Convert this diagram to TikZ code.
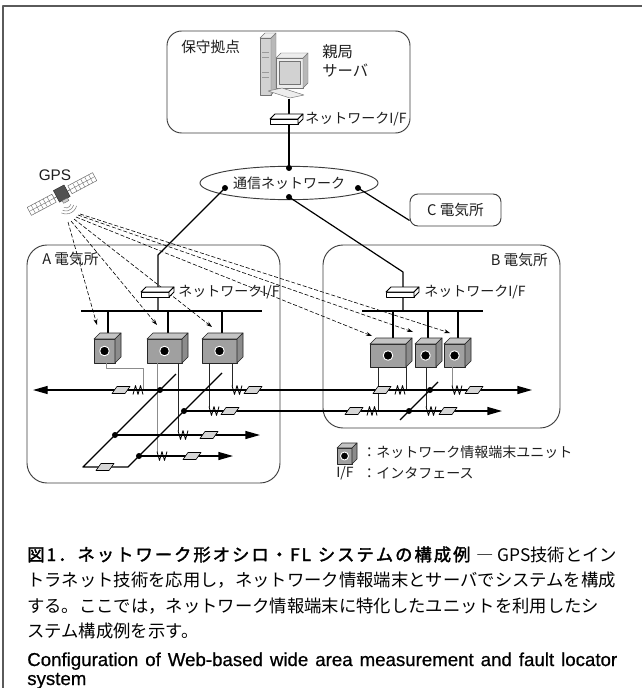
\documentclass[tikz,border=0pt]{standalone}
\usepackage{fontspec}
\setmainfont{Liberation Sans}
\newfontfamily\jp{Noto Sans CJK JP}
\newfontfamily\jpbf[FakeBold=2]{Noto Sans CJK JP}
\newfontfamily\enmed[FakeBold=0.7]{Liberation Sans}
\usetikzlibrary{arrows.meta,calc,shapes.geometric}

\definecolor{framegray}{HTML}{5A5A5A}
\definecolor{boxgray}{HTML}{3C3C3C}
\definecolor{ufront}{HTML}{A0A0A0}
\definecolor{utop}{HTML}{C4C4C4}
\definecolor{uside}{HTML}{8C8C8C}
\definecolor{brkfill}{HTML}{D6D6D6}
\definecolor{pcA}{HTML}{EDEDED}
\definecolor{pcB}{HTML}{D2D2D2}
\definecolor{pcC}{HTML}{B8B8B8}
\definecolor{pcD}{HTML}{9A9A9A}
\definecolor{txt}{HTML}{1E1E1E}

% spread a run of characters evenly over the width of the surrounding box
\ExplSyntaxOn
\NewDocumentCommand\spreadchars{m}{\tl_map_inline:nn{#1}{##1\hfil}}
\ExplSyntaxOff

% 3-D terminal unit: name, x, y (top-left of front face), width, height, depth
\newcommand\termunit[6]{%
  \filldraw[unitface, fill=ufront] (#2,#3) rectangle ++(#4,#5);
  \filldraw[unitface, fill=utop] (#2,#3) -- ++(#6,-#6) -- ++(#4,0) -- ++(-#6,#6) -- cycle;
  \filldraw[unitface, fill=uside] (#2+#4,#3) -- ++(#6,-#6) -- ++(0,#5) -- ++(-#6,#6) -- cycle;
  \node[unitdot, minimum size=#6*1.2pt] (#1) at (#2+#4/2,#3+#5/2) {};
}
% circuit breaker: left x, line y
\newcommand\cbreaker[2]{\filldraw[brkstyle] (#1,#2+3.5) -- ++(13,0) -- ++(5,-7) -- ++(-13,0) -- cycle;}
% current transformer zigzags: centre x, line y
\newcommand\ctw[2]{\draw[ctstyle] (#1-5,#2-4.5) -- (#1-2.5,#2+4.5) -- (#1,#2-4.5) -- (#1+2.5,#2+4.5) -- (#1+5,#2-4.5);}
\newcommand\ctm[2]{\draw[ctstyle] (#1-5,#2+4.5) -- (#1-2.5,#2-4.5) -- (#1,#2+4.5) -- (#1+2.5,#2-4.5) -- (#1+5,#2+4.5);}
% network interface box: name, x, y
\newcommand\netif[3]{%
  \coordinate (#1) at (#2,#3);
  \filldraw[ifstyle] (#2-17,#3) rectangle (#2+11,#3+5);
  \filldraw[ifstyle] (#2-17,#3) -- (#2-12,#3-5) -- (#2+16,#3-5) -- (#2+11,#3) -- cycle;
  \filldraw[ifstyle] (#2+11,#3) -- (#2+16,#3-5) -- (#2+16,#3) -- (#2+11,#3+5) -- cycle;
}

\begin{document}
\begin{tikzpicture}[x=0.75pt,y=-0.75pt,line join=round,
  unitface/.style={draw=black!85, line width=0.5pt},
  unitdot/.style={circle, fill=black, draw=white, line width=0.7pt, inner sep=0pt},
  brkstyle/.style={draw=black, fill=brkfill, line width=0.45pt},
  ctstyle/.style={draw=black, line width=0.6pt},
  ifstyle/.style={draw=black, fill=white, line width=0.55pt},
  sitebox/.style={draw=boxgray, line width=0.7pt, rounded corners=15pt, inner sep=0pt},
  netline/.style={draw=black, line width=0.9pt},
  gpsline/.style={draw=black, line width=0.45pt, dash pattern=on 3pt off 1.5pt, -{Stealth[length=4.5pt,width=3pt]}},
  pline/.style={draw=black, line width=1pt},
  ptip/.tip={Triangle[length=11pt,width=6pt]},
  junction/.style={circle, fill=black, inner sep=0pt, minimum size=4.5pt},
  unitwire/.style={draw=black!85, line width=0.55pt},
  unitwiregray/.style={draw=black!45, line width=0.7pt},
  lab/.style={font=\jp\fontsize{10.5pt}{12pt}\selectfont, text=txt, inner sep=0pt},
  biglab/.style={font=\jp\fontsize{11pt}{14pt}\selectfont, text=txt, inner sep=0pt},
  pcface/.style={draw=black!55, line width=0.35pt},
  panel/.style={draw=black!60, fill=white, line width=0.35pt},
  capline/.style={anchor=base west, inner sep=0pt, text=black},
]
\fill[white] (0,0) rectangle (642,688);
\useasboundingbox (0,0) rectangle (642,688);

% frame
\draw[framegray, line width=1.2pt] (3,688) -- (3,6) -- (642,6);

% sites
\node[sitebox, rounded corners=11pt, minimum width=182.25pt, minimum height=76.5pt] (base) at (288.5,82) {};
\node[sitebox, minimum width=189.75pt, minimum height=178.5pt] (subA) at (153.5,364) {};
\node[sitebox, minimum width=177.75pt, minimum height=137.25pt] (subB) at (441.5,336.5) {};
\node[sitebox, biglab, rounded corners=6pt, minimum width=68.25pt, minimum height=24pt] (subC) at (455.5,210) {C 電気所};
\node[ellipse, draw=boxgray, line width=0.7pt, minimum width=133.5pt, minimum height=25pt, inner sep=0pt, lab] (net) at (289,183) {通信ネットワーク};

\node[biglab, anchor=west] (baseLbl) at (181,47) {保守拠点};
\node[biglab, anchor=west] (aLbl) at (42,259) {A 電気所};
\node[biglab, anchor=east] (bLbl) at (548,260) {B 電気所};
\node[biglab, align=left, anchor=north west, font=\jp\fontsize{11.5pt}{14.5pt}\selectfont] (srvLbl) at (322,44) {親局\\サーバ};

% server computer
\filldraw[pcface, fill=pcB] (260,38) rectangle (271,95);
\filldraw[pcface, fill=pcC] (271,38) -- (276,33) -- (276,90) -- (271,95) -- cycle;
\filldraw[pcface, fill=pcA] (260,38) -- (265,33) -- (276,33) -- (271,38) -- cycle;
\draw[pcD, line width=0.4pt] (262,52) -- (269,52) (262,57) -- (269,57) (262,72) -- (269,72) (262,77) -- (269,77);
\filldraw[pcface, fill=pcA] (276,58) rectangle (303,88);
\filldraw[pcface, fill=pcB] (279,61) rectangle (300,84);
\filldraw[pcface, fill=pcC] (303,58) -- (308,53) -- (308,83) -- (303,88) -- cycle;
\filldraw[pcface, fill=pcA] (276,58) -- (281,53) -- (308,53) -- (303,58) -- cycle;
\filldraw[pcface, fill=pcA] (268,91) -- (282,88) -- (304,95) -- (290,98) -- cycle;
\coordinate (pcOut) at (289,99);

% GPS satellite
\node[font=\fontsize{11.5pt}{13pt}\selectfont, text=txt] (gpsLbl) at (55,175) {GPS};
\begin{scope}[shift={(62,194)}, rotate=28]
  \filldraw[panel] (-37,-4.5) rectangle (-9,4.5);
  \filldraw[panel] (9,-4.5) rectangle (37,4.5);
  \foreach \u in {-32.5,-28,-23.5,-19,-14.5,14.5,19,23.5,28,32.5}
    \draw[black!55, line width=0.3pt] (\u,-4.5) -- (\u,4.5);
  \draw[black!55, line width=0.3pt] (-37,0) -- (-9,0) (9,0) -- (37,0);
  \draw[black!60, line width=0.5pt] (-9,0) -- (-6,0) (6,0) -- (9,0);
  \filldraw[draw=black!80, fill=black!68, line width=0.4pt] (-6,-7) rectangle (6,6);
  \filldraw[draw=black!60, fill=black!20, line width=0.3pt] (-3,6) rectangle (3,9);
\end{scope}
\coordinate (gpsSrc) at (66,203);
\foreach \r in {5,8,11}
  \draw[black!50, line width=0.4pt] ([shift={(15:\r)}]gpsSrc) arc[start angle=15, end angle=115, radius=\r];

% GPS time signals to the terminal units
\coordinate (gA1) at (68,222); \coordinate (tA1) at (97,325);
\coordinate (gA2) at (71,221); \coordinate (tA2) at (157,325);
\coordinate (gA3) at (74,219); \coordinate (tA3) at (212,327);
\coordinate (gB1) at (76,217); \coordinate (tB1) at (372,336);
\coordinate (gB2) at (78,215); \coordinate (tB2) at (413,332);
\coordinate (gB3) at (80,214); \coordinate (tB3) at (450,333);
\foreach \k in {A1,A2,A3,B1,B2,B3} \draw[gpsline] (g\k) -- (t\k);

% communication network links
\coordinate (netT) at (289,168);
\coordinate (netL) at (225,188);
\coordinate (netR) at (358,188);
\coordinate (netB) at (289,197);
\coordinate (aBend) at (158,255);
\coordinate (bBend) at (403,272);
\coordinate (busAc) at (158,311);
\coordinate (busBc) at (403,311);
\draw[netline] (pcOut) -- (netT);
\draw[netline] (netL) -- (aBend) -- (busAc);
\draw[netline] (netB) -- (bBend) -- (busBc);
\draw[netline] (netR) -- ($(subC.south west)+(0,-6)$);
\foreach \p in {netT,netL,netR,netB} \node[junction] (d\p) at (\p) {};

% station LANs
\coordinate (busAw) at (81,311); \coordinate (busAe) at (262,311);
\coordinate (busBw) at (362,311); \coordinate (busBe) at (483,311);
\draw[netline] (busAw) -- (busAe);
\draw[netline] (busBw) -- (busBe);
\foreach \x in {108,168,222} \draw[netline, line width=0.8pt] (\x,311) -- (\x,333);
\foreach \x in {393,428,458} \draw[netline, line width=0.8pt] (\x,311) -- (\x,338);

\netif{ifTop}{287}{119}
\netif{ifA}{158}{292}
\netif{ifB}{403}{292}
\node[lab, anchor=west] (ifTopLbl) at (305,119) {ネットワークI/F};
\node[lab, anchor=west] (ifALbl) at (178,292) {ネットワークI/F};
\node[lab, anchor=west] (ifBLbl) at (424,292) {ネットワークI/F};

% terminal units
\termunit{uA1}{94}{339}{21}{24}{6}
\termunit{uA2}{147}{339}{35}{24}{6}
\termunit{uA3}{202}{339}{35}{24}{6}
\termunit{uB1}{370}{344}{36}{23}{6}
\termunit{uB2}{415}{344}{21}{23}{6}
\termunit{uB3}{444}{344}{21}{23}{6}

% unit measuring wires
\draw[unitwiregray] (106,363) -- (106,368) -- (143,368) -- (143,390);
\draw[unitwiregray] (157,363) -- (157,451.5);
\draw[unitwire] (178,363) -- (178,430.5);
\draw[unitwire] (209,363) -- (209,406.5);
\draw[unitwire] (232,363) -- (232,385.5);
\draw[unitwire] (378,367) -- (378,411);
\draw[unitwire] (406,367) -- (406,390);
\draw[unitwire] (426,367) -- (426,406.5);
\draw[unitwiregray] (452,367) -- (452,385.5);

% power lines and buses
\coordinate (l1w) at (33,390);  \coordinate (l1e) at (532,390);
\coordinate (jA2) at (184,411); \coordinate (l2e) at (502,411);
\coordinate (jA3) at (115,435); \coordinate (l3e) at (260,435);
\coordinate (jA4) at (139,456); \coordinate (l4e) at (233,456);
\coordinate (jA1) at (160,390);
\coordinate (jB1) at (430,390); \coordinate (jB2) at (409,411);
\draw[pline, ptip-ptip] (l1w) -- (l1e);
\draw[pline, -ptip] (jA2) -- (l2e);
\draw[pline, -ptip] (jA3) -- (l3e);
\draw[pline, -ptip] (jA4) -- (l4e);
\draw[pline] (176,374) -- (83,467) -- (128,467) -- (222,373);
\draw[pline] (400,420) -- (438,382);

% breakers and current transformers
\cbreaker{112}{390} \cbreaker{244}{390} \cbreaker{221}{411}
\cbreaker{200}{435} \cbreaker{183}{456} \cbreaker{96}{467}
\cbreaker{373}{390} \cbreaker{465}{390} \cbreaker{345}{411} \cbreaker{439}{411}
\ctm{138}{390} \ctw{237}{390} \ctw{214}{411} \ctw{183}{435} \ctw{162}{456}
\ctm{400}{390} \ctw{457}{390} \ctm{372}{411} \ctw{431}{411}

\foreach \p in {jA1,jA2,jA3,jA4,jB1,jB2} \node[junction] (d\p) at (\p) {};

% legend
\termunit{uKey}{337}{448}{15}{16}{5}
\node[lab, anchor=west] (keyU) at (362,452) {：ネットワーク情報端末ユニット};
\node[lab, anchor=west] (keyIF) at (336,473) {I/F};
\node[lab, anchor=west] (keyIFt) at (362,473) {：インタフェース};

% caption
\node[capline] (cap1) at (27,561) {\fontsize{13pt}{16pt}\selectfont
  \hbox to 442.5pt{\jpbf\spreadchars{図1．ネットワーク形オシロ・FL\,システムの構成例}\jp\ ― GPS技術とイン}};
\node[capline] (cap2) at (27,586) {\jp\fontsize{13pt}{16pt}\selectfont
  \hbox to 442.5pt{トラネット技術を応用し，ネットワーク情報端末とサーバでシステムを構成}};
\node[capline] (cap3) at (27,612) {\jp\fontsize{13pt}{16pt}\selectfont
  \hbox to 442.5pt{する。ここでは，ネットワーク情報端末に特化したユニットを利用したシ}};
\node[capline] (cap4) at (27,637) {\jp\fontsize{13pt}{16pt}\selectfont ステム構成例を示す。};
\node[capline] (cap5) at (27,666) {\enmed\fontsize{14pt}{16pt}\selectfont
  \hbox to 442.5pt{Configuration of Web-based wide area measurement and fault locator}};
\node[capline] (cap6) at (27,685) {\enmed\fontsize{14pt}{16pt}\selectfont system};
\end{tikzpicture}
\end{document}
